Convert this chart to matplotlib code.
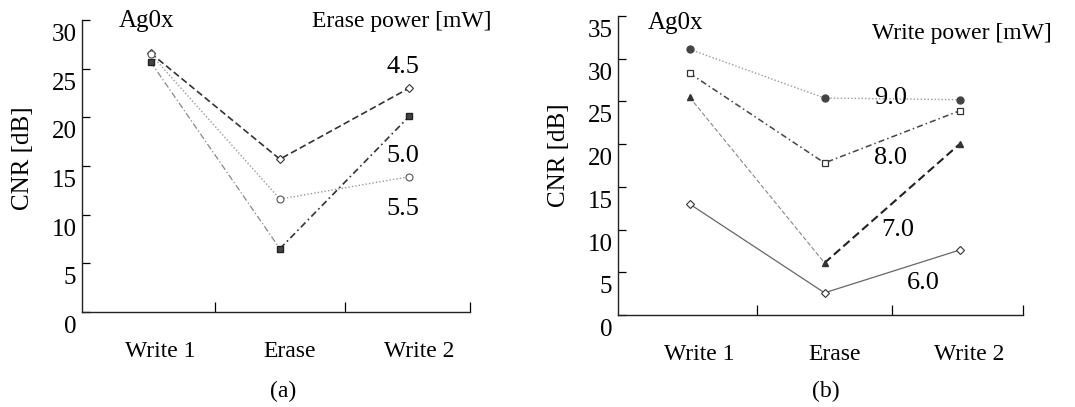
import matplotlib
matplotlib.use("Agg")
import matplotlib.pyplot as plt
import matplotlib.transforms as mtransforms

# === DATA ===
stages = ["Write 1", "Erase", "Write 2"]

# (a) erase power series [mW]
erase_powers = ["4.5", "5.0", "5.5"]
cnr_erase_45 = [26.6, 15.7, 23.0]
cnr_erase_50 = [26.5, 11.6, 13.9]
cnr_erase_55 = [25.7, 6.5, 20.1]

# (b) write power series [mW]
write_powers = ["9.0", "8.0", "7.0", "6.0"]
cnr_write_90 = [31.1, 25.4, 25.2]
cnr_write_80 = [28.3, 17.8, 23.9]
cnr_write_70 = [25.5, 6.1, 20.0]
cnr_write_60 = [13.0, 2.6, 7.6]

# === STYLE ===
plt.rcParams["font.family"] = ["Liberation Serif", "DejaVu Serif"]
FS = 17
x = list(range(len(stages)))

fig = plt.figure(figsize=(10.75, 4.07), dpi=100)
ax_a = fig.add_axes([0.0763, 0.2334, 0.3609, 0.7176])
ax_b = fig.add_axes([0.5749, 0.2260, 0.3767, 0.7347])


def style_axes(ax, ymax, ystep):
    ax.set_xlim(-0.53, 2.47)
    ax.set_ylim(0, ymax)
    for s in ["top", "right"]:
        ax.spines[s].set_visible(False)
    for s in ["left", "bottom"]:
        ax.spines[s].set_linewidth(1.0)
        ax.spines[s].set_color("#222222")
    ax.set_yticks(range(0, ymax + 1, ystep))
    ax.tick_params(axis="y", direction="in", length=6, labelsize=FS + 1, pad=4,
                   width=0.9)
    yoff = mtransforms.ScaledTranslation(0, -4 / 100, fig.dpi_scale_trans)
    for lab in ax.get_yticklabels():
        lab.set_verticalalignment("top")
        lab.set_transform(lab.get_transform() + yoff)
    ax.set_xticks(x)
    ax.set_xticklabels(stages)
    ax.set_xticks([0.5, 1.5, 2.47], minor=True)
    ax.tick_params(axis="x", which="major", length=0, labelsize=FS, pad=21)
    ax.tick_params(axis="x", which="minor", direction="in", length=7, width=0.9)
    offset = mtransforms.ScaledTranslation(10 / 100, 0, fig.dpi_scale_trans)
    for lab in ax.get_xticklabels():
        lab.set_transform(lab.get_transform() + offset)


style_axes(ax_a, 30, 5)
style_axes(ax_b, 35, 5)

# === (a) ===
ax_a.plot(x, cnr_erase_45, ls=(0, (4, 2)), color="#333333", lw=1.2,
          marker="D", ms=4, mfc="white", mec="#333333", mew=0.8)
ax_a.plot(x, cnr_erase_50, ls=(0, (1, 1.5)), color="#999999", lw=1.0,
          marker="o", ms=5, mfc="white", mec="#555555", mew=0.8)
ax_a.plot(x[:2], cnr_erase_55[:2], ls=(0, (5, 2, 1, 2)), color="#888888", lw=0.9)
ax_a.plot(x[1:], cnr_erase_55[1:], ls=(0, (4, 2, 1, 2)), color="#333333", lw=1.2)
ax_a.plot(x, cnr_erase_55, ls="none", marker="s", ms=5,
          mfc="#444444", mec="#222222")

ax_a.text(0.165, 0.997, "Ag0x", transform=ax_a.transAxes, fontsize=FS + 1,
          ha="center", va="center")
ax_a.text(0.825, 0.993, "Erase power [mW]", transform=ax_a.transAxes,
          fontsize=FS, ha="center", va="center", clip_on=False)
for lab, (px, py) in zip(erase_powers, [(0.827, 0.839), (0.827, 0.534),
                                        (0.827, 0.353)]):
    ax_a.text(px, py, lab, transform=ax_a.transAxes, fontsize=FS + 2,
              ha="center", va="center")

# === (b) ===
ax_b.plot(x, cnr_write_90, ls=(0, (1, 1.5)), color="#999999", lw=1.0,
          marker="o", ms=5, mfc="#444444", mec="#444444")
ax_b.plot(x, cnr_write_80, ls=(0, (4, 2, 1, 2)), color="#444444", lw=1.1,
          marker="s", ms=5, mfc="white", mec="#333333", mew=0.9)
ax_b.plot(x[:2], cnr_write_70[:2], ls=(0, (4, 2)), color="#888888", lw=0.8)
ax_b.plot(x[1:], cnr_write_70[1:], ls=(0, (4, 2)), color="#222222", lw=1.5)
ax_b.plot(x, cnr_write_70, ls="none", marker="^", ms=5,
          mfc="#333333", mec="#333333")
ax_b.plot(x, cnr_write_60, ls="-", color="#666666", lw=0.9,
          marker="D", ms=4, mfc="white", mec="#333333", mew=0.8)

ax_b.text(0.141, 0.977, "Ag0x", transform=ax_b.transAxes, fontsize=FS + 1,
          ha="center", va="center")
ax_b.text(0.849, 0.943, "Write power [mW]", transform=ax_b.transAxes,
          fontsize=FS, ha="center", va="center", clip_on=False)
for lab, (px, py) in zip(write_powers, [(0.672, 0.726), (0.672, 0.525),
                                        (0.691, 0.284), (0.753, 0.107)]):
    ax_b.text(px, py, lab, transform=ax_b.transAxes, fontsize=FS + 2,
              ha="center", va="center")

# === labels ===
fig.text(0.021, 0.612, "CNR [dB]", rotation=90, fontsize=FS + 1,
         ha="center", va="center")
fig.text(0.520, 0.619, "CNR [dB]", rotation=90, fontsize=FS + 1,
         ha="center", va="center")
fig.text(0.263, 0.037, "(a)", fontsize=FS, ha="center", va="center")
fig.text(0.768, 0.037, "(b)", fontsize=FS, ha="center", va="center")

fig.savefig("out.png", dpi=100)
